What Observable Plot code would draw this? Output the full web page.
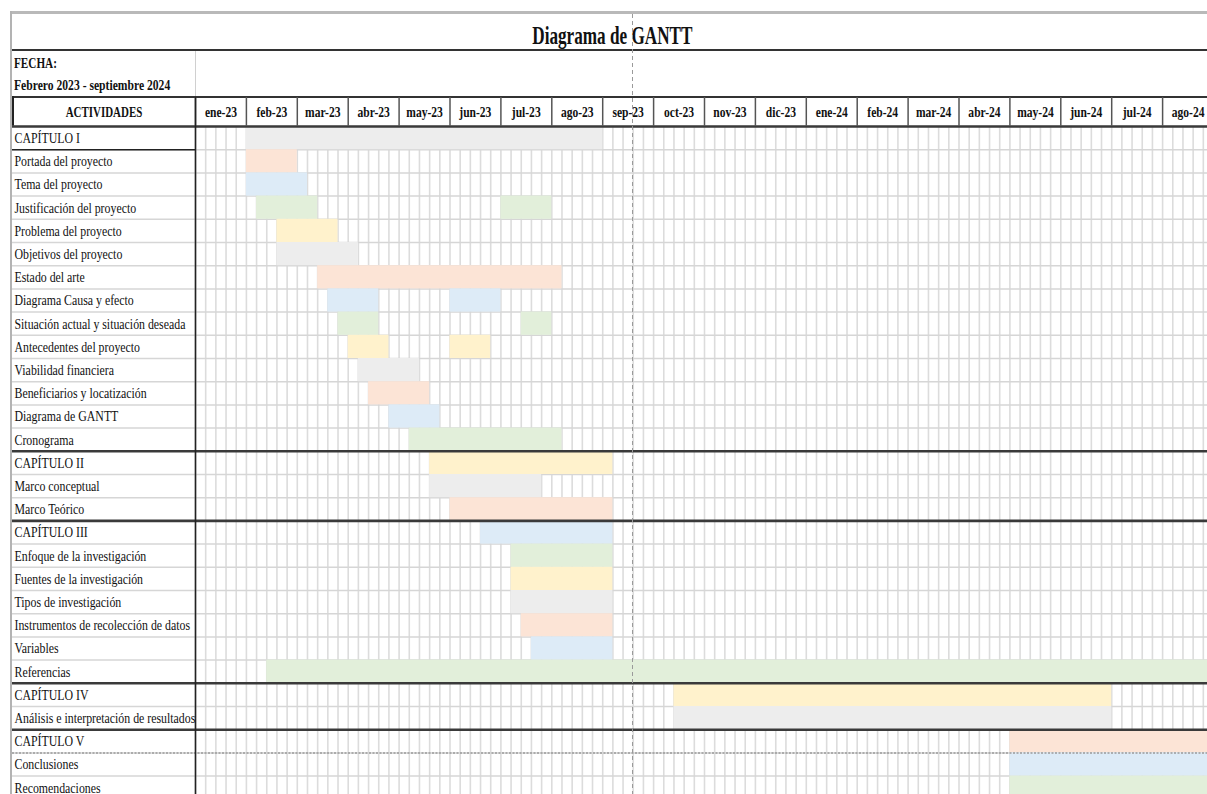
<!DOCTYPE html>
<html>
<head>
<meta charset="utf-8">
<script src="https://cdn.jsdelivr.net/npm/d3@7"></script>
<script src="https://cdn.jsdelivr.net/npm/@observablehq/plot@0.6"></script>
<style>
  html, body { margin: 0; padding: 0; background: #fff; }
  #page { position: relative; width: 1207px; height: 794px; overflow: hidden; background: #fff;
          font-family: "Liberation Serif", "Times New Roman", serif; color: #111; }
  .abs { position: absolute; }
  .cond { display: inline-block; white-space: pre; }
</style>
</head>
<body>
<div id="page">
  <div class="abs" style="left:10px; top:11px; width:1197px; height:3px; background:#b9b9b9;"></div>
  <div class="abs" style="left:10px; top:11px; width:2px; height:783px; background:#b3b3b3;"></div>
  <div class="abs" id="title" style="left:0; width:1224px; top:23px; text-align:center; font-weight:bold; font-size:26px; line-height:26px;"></div>
  <div class="abs" style="left:12px; top:49px; width:1195px; height:2px; background:#333;"></div>
  <div class="abs" style="left:195px; top:51px; width:1px; height:46px; background:#d0d0d0;"></div>
  <div class="abs" id="fecha1" style="left:14px; top:57px; font-weight:bold; font-size:14px; line-height:14px;"></div>
  <div class="abs" id="fecha2" style="left:14px; top:79px; font-weight:bold; font-size:14px; line-height:14px;"></div>
  <div class="abs" style="left:12px; top:96px; width:1195px; height:1.5px; background:#333;"></div>
  <div class="abs" style="left:12px; top:96px; width:1.5px; height:31px; background:#222;"></div>
  <div class="abs" id="chart" style="left:0; top:97px;"></div>
  <div class="abs" style="left:632px; top:14px; width:1px; height:780px; z-index:5;
       background: repeating-linear-gradient(to bottom, #9a9a9a 0 4px, transparent 4px 7px);"></div>
</div>
<script>
// ---------- data ----------
const titleText = "Diagrama de GANTT";
const dateLabel = "FECHA:";
const dateRange = "Febrero 2023 - septiembre 2024";
const columnHeader = "ACTIVIDADES";

const months = ["ene-23","feb-23","mar-23","abr-23","may-23","jun-23","jul-23","ago-23",
  "sep-23","oct-23","nov-23","dic-23","ene-24","feb-24","mar-24","abr-24","may-24","jun-24","jul-24","ago-24"];
const weeksPerMonth = 5;

const activities = [
  "CAPÍTULO I", "Portada del proyecto", "Tema del proyecto", "Justificación del proyecto",
  "Problema del proyecto", "Objetivos del proyecto", "Estado del arte", "Diagrama Causa y efecto",
  "Situación actual y situación deseada", "Antecedentes del proyecto", "Viabilidad financiera",
  "Beneficiarios y locatización", "Diagrama de GANTT", "Cronograma",
  "CAPÍTULO II", "Marco conceptual", "Marco Teórico",
  "CAPÍTULO III", "Enfoque de la investigación", "Fuentes de la investigación", "Tipos de investigación",
  "Instrumentos de recolección de datos", "Variables", "Referencias",
  "CAPÍTULO IV", "Análisis e interpretación de resultados",
  "CAPÍTULO V", "Conclusiones", "Recomendaciones"
];

// bars: activity, start week, end week (weeks counted from start of ene-23, 5 per month)
const taskName = [
  "CAPÍTULO I", "Portada del proyecto", "Tema del proyecto", "Justificación del proyecto", "Justificación del proyecto",
  "Problema del proyecto", "Objetivos del proyecto", "Estado del arte", "Diagrama Causa y efecto", "Diagrama Causa y efecto",
  "Situación actual y situación deseada", "Situación actual y situación deseada",
  "Antecedentes del proyecto", "Antecedentes del proyecto", "Viabilidad financiera",
  "Beneficiarios y locatización", "Diagrama de GANTT", "Cronograma",
  "CAPÍTULO II", "Marco conceptual", "Marco Teórico",
  "CAPÍTULO III", "Enfoque de la investigación", "Fuentes de la investigación", "Tipos de investigación",
  "Instrumentos de recolección de datos", "Variables", "Referencias",
  "CAPÍTULO IV", "Análisis e interpretación de resultados",
  "CAPÍTULO V", "Conclusiones", "Recomendaciones"
];
const taskStart = [5, 5, 5, 6, 30, 8, 8, 12, 13, 25, 14, 32, 15, 25, 16, 17, 19, 21,
  23, 23, 25, 28, 31, 31, 31, 32, 33, 7, 47, 47, 80, 80, 80];
const taskEnd   = [40, 10, 11, 12, 35, 14, 16, 36, 18, 30, 18, 35, 19, 29, 22, 23, 24, 36,
  41, 34, 41, 41, 41, 41, 41, 41, 41, 100, 90, 90, 100, 100, 100];

const barColors = ["#ededed", "#fce4d6", "#ddebf7", "#e2efda", "#fff2cc"];

// ---------- derived ----------
const tasks = taskName.map((n, i) => ({row: activities.indexOf(n), start: taskStart[i], end: taskEnd[i]}));
const nWeeks = months.length * weeksPerMonth;
const weekLines = d3.range(0, nWeeks + 1);
const monthBounds = d3.range(0, months.length + 1).map(i => i * weeksPerMonth);
const rowLines = d3.range(0, activities.length + 1);
const chapterRows = activities.map((d, i) => d.startsWith("CAPÍTULO") ? i : -1).filter(i => i >= 0);
const pageBreakRow = activities.indexOf("Conclusiones");

// ---------- html text ----------
function condSpan(text, ratio, origin) {
  const s = document.createElement("span");
  s.className = "cond";
  s.textContent = text;
  s.style.transform = `scaleX(${ratio})`;
  s.style.transformOrigin = origin;
  return s;
}
document.getElementById("title").appendChild(condSpan(titleText, 0.66, "center"));
document.getElementById("fecha1").appendChild(condSpan(dateLabel, 0.8, "left"));
document.getElementById("fecha2").appendChild(condSpan(dateRange, 0.83, "left"));

// ---------- chart ----------
const rowH = 23.2, headH = 29, left = 195, monthW = 50.9;
const chart = Plot.plot({
  width: 1207,
  height: 697,
  marginTop: headH, marginLeft: left, marginRight: 0, marginBottom: 0,
  style: {fontFamily: "'Liberation Serif', 'Times New Roman', serif", fontSize: "15px", color: "#111", background: "transparent"},
  x: {domain: [0, nWeeks], range: [left, left + months.length * monthW], axis: null},
  y: {domain: [0, activities.length], range: [headH, headH + activities.length * rowH], axis: null},
  color: {type: "ordinal", domain: [0, 1, 2, 3, 4], range: barColors},
  marks: [
    Plot.ruleX(weekLines, {x: d => d, stroke: "#dcdcdc", strokeWidth: 1.6}),
    Plot.ruleY(rowLines, {y: d => d, stroke: "#d6d6d6", strokeWidth: 1.5, insetLeft: -183}),
    Plot.rect(tasks, {x1: "start", x2: "end", y1: "row", y2: d => d.row + 1, fill: d => d.row % 5}),
    Plot.ruleY([pageBreakRow], {y: d => d, stroke: "#9a9a9a", strokeWidth: 1.5, strokeDasharray: "2,1.5", insetLeft: -183}),
    Plot.ruleY([1], {y: d => d, x1: 0, x2: 0, insetLeft: -183, stroke: "#222", strokeWidth: 1.5}),
    Plot.ruleY(chapterRows, {y: d => d, stroke: "#3a3a3a", strokeWidth: 2.6, insetLeft: -183}),
    Plot.ruleX(monthBounds, {x: d => d, y1: 0, y2: 0, insetTop: -headH, stroke: "#555", strokeWidth: 1.5}),
    Plot.ruleX([0], {x: d => d, stroke: "#222", strokeWidth: 1.6, insetTop: -headH}),
    Plot.text(activities, {y: (d, i) => i + 0.5, text: d => d, frameAnchor: "left", textAnchor: "start",
      lineAnchor: "middle", dx: -181, fontSize: 15, fill: "#111"}),
    Plot.text(months, {x: (d, i) => i * weeksPerMonth + weeksPerMonth / 2, text: d => d, frameAnchor: "top",
      textAnchor: "middle", lineAnchor: "middle", dy: -headH / 2, fontSize: 15, fontWeight: "bold", fill: "#111"}),
    Plot.text([columnHeader], {text: d => d, frameAnchor: "top-left", textAnchor: "middle", lineAnchor: "middle",
      dx: -(left - 12) / 2, dy: -headH / 2, fontSize: 15, fontWeight: "bold", fill: "#111"})
  ]
});
document.getElementById("chart").appendChild(chart);

// horizontally condense the svg texts (the reference lettering is narrow)
const ratioFor = s => s === columnHeader ? 0.73 : months.includes(s) ? 0.77 : 0.79;
chart.querySelectorAll("text").forEach(t => {
  const r = ratioFor(t.textContent);
  const bb = t.getBBox();
  const anchor = getComputedStyle(t).textAnchor;
  const x0 = anchor === "middle" ? bb.x + bb.width / 2 : anchor === "end" ? bb.x + bb.width : bb.x;
  const prev = t.getAttribute("transform") || "";
  t.setAttribute("transform", `${prev} translate(${(x0 * (1 - r)).toFixed(2)},0) scale(${r},1)`);
});
</script>
</body>
</html>
